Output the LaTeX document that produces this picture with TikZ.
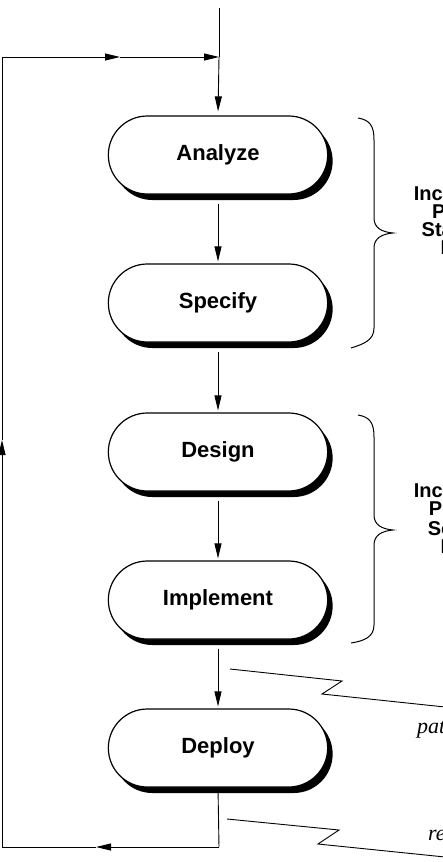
\documentclass[tikz,border=0pt]{standalone}
\usepackage{fontspec}
\setmainfont{Liberation Sans}
\newfontfamily\serifit{Liberation Serif}
\usetikzlibrary{arrows.meta,shadows,shapes.misc}
\begin{document}
\begin{tikzpicture}[x=1pt,y=1pt,
  phase/.style={rounded rectangle, draw, line width=1.2pt, fill=white,
    minimum width=226pt, minimum height=78pt,
    font=\fontsize{22}{24}\selectfont\bfseries,
    drop shadow={shadow xshift=5pt, shadow yshift=-6pt, fill=black, opacity=1}},
  conn/.style={line width=0.9pt},
  tipped/.style={-{Triangle[length=15pt,width=7pt]}},
  bracepath/.style={line width=1pt},
  grouptext/.style={align=center, font=\fontsize{20}{18}\selectfont\bfseries},
  note/.style={font=\serifit\itshape\fontsize{22}{24}\selectfont, anchor=base west, inner sep=0pt},
  zig/.style={line width=0.9pt}
]
\useasboundingbox (0,0) rectangle (442,-862);

% phases
\node[phase] (an) at (218,-155) {Analyze};
\node[phase] (sp) at (218,-303) {Specify};
\node[phase] (de) at (218,-452) {Design};
\node[phase] (im) at (218,-600) {Implement};
\node[phase] (dp) at (218,-748) {Deploy};

% coordinates of the loop
\coordinate (top) at (219,-8);
\coordinate (j) at (219,-57);
\coordinate (tl) at (2,-57);
\coordinate (m1) at (120,-57);
\coordinate (bl) at (2,-847);
\coordinate (m3) at (2,-440);
\coordinate (bj) at (219,-847);
\coordinate (m2) at (96,-847);

% top entry
\draw[conn] (top) -- (j);
\draw[conn,tipped,shorten >=4pt] (j) -- (an.north);

% feedback loop
\draw[conn] (dp.south) -- (bj);
\draw[conn,tipped] (bj) -- (m2);
\draw[conn] (m2) -- (bl);
\draw[conn,tipped] (bl) -- (m3);
\draw[conn] (m3) -- (tl);
\draw[conn,tipped] (tl) -- (m1);
\draw[conn,tipped] (m1) -- (j);

% chain
\draw[conn,tipped,shorten <=9pt,shorten >=2pt] (an.south) -- (sp.north);
\draw[conn,tipped,shorten <=9pt,shorten >=2pt] (sp.south) -- (de.north);
\draw[conn,tipped,shorten <=9pt,shorten >=2pt] (de.south) -- (im.north);
\draw[conn,tipped,shorten <=9pt,shorten >=2pt] (im.south) -- (dp.north);

% braces
\draw[bracepath] (358,-118) .. controls (370,-120) and (374,-126) .. (374,-140)
  -- (374,-218) .. controls (374,-228) and (382,-232) .. (393,-233)
  .. controls (382,-234) and (374,-238) .. (374,-248)
  -- (374,-328) .. controls (374,-340) and (364,-344) .. (351,-348);
\begin{scope}[yshift=-297pt]
\draw[bracepath] (358,-118) .. controls (370,-120) and (374,-126) .. (374,-140)
  -- (374,-218) .. controls (374,-228) and (382,-232) .. (393,-233)
  .. controls (382,-234) and (374,-238) .. (374,-248)
  -- (374,-328) .. controls (374,-340) and (364,-344) .. (351,-346);
\end{scope}

\node[grouptext] (g1) at (470,-220) {Incremental\\Product\\Statement\\Focus};
\node[grouptext] (g2) at (470,-518) {Incremental\\Program\\Software\\Phase};

% zigzag annotations
\coordinate (a1) at (230,-669);
\coordinate (a2) at (342,-681);
\coordinate (a3) at (322,-694);
\coordinate (a4) at (445,-707);
\draw[zig] (a1) -- (a2) -- (a3) -- (a4);
\coordinate (b1) at (227,-819);
\coordinate (b2) at (339,-830);
\coordinate (b3) at (318,-844);
\coordinate (b4) at (445,-857);
\draw[zig] (b1) -- (b2) -- (b3) -- (b4);

\node[note] (n1) at (417,-733) {patch};
\node[note] (n2) at (428,-840) {release};
\end{tikzpicture}
\end{document}
